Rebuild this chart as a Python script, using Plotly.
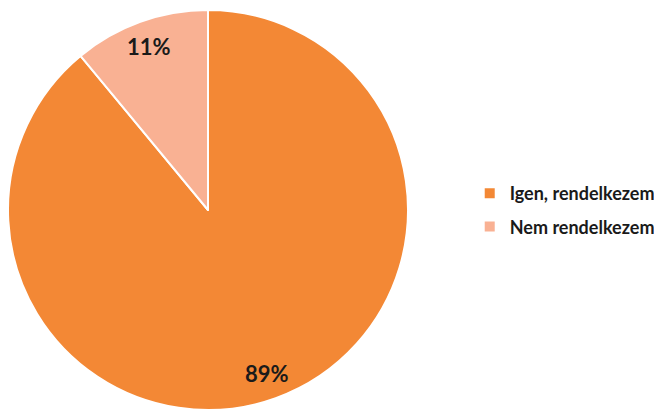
import math
import plotly.graph_objects as go

labels = ["Igen, rendelkezem", "Nem rendelkezem"]
values = [89, 11]
colors = ["#F38835", "#F9B193"]

# page body adds an 8px offset, so the figure is drawn 8px smaller
W, H = 654, 404
ML, MR, MT, MB = 0, 0, 2, 2
pie_x = [0, 400 / W]

fig = go.Figure(go.Pie(
    labels=labels,
    values=values,
    sort=False,
    direction="clockwise",
    rotation=0,
    marker=dict(colors=colors, line=dict(color="white", width=2)),
    textinfo="none",
    domain=dict(x=pie_x, y=[0, 1]),
    hoverinfo="skip",
    showlegend=False,
))

# percent labels placed along each slice's mid-angle
pw, ph = W - ML - MR, H - MT - MB
R = min((pie_x[1] - pie_x[0]) * pw, ph) / 2
cx, cy = (pie_x[0] + pie_x[1]) / 2, 0.5
total = sum(values)
start = 0.0
for v in values:
    mid = (start + v / 2) / total * 2 * math.pi
    start += v
    r = 0.87 * R
    fig.add_annotation(
        x=cx + r * math.sin(mid) / pw,
        y=cy + r * math.cos(mid) / ph,
        xref="paper", yref="paper",
        xanchor="center", yanchor="middle",
        text=f"{round(v / total * 100)}%",
        showarrow=False,
        font=dict(family="Lato", size=22, color="#1a1a1a", weight="bold"),
    )

# legend entries
for lab, col in zip(labels, colors):
    fig.add_trace(go.Scatter(
        x=[None], y=[None], mode="markers", name=lab, legendgroup=lab,
        marker=dict(symbol="square", size=10, color=col),
        hoverinfo="skip",
    ))

fig.update_layout(
    width=W, height=H,
    margin=dict(l=ML, r=MR, t=MT, b=MB),
    paper_bgcolor="white",
    plot_bgcolor="white",
    xaxis=dict(visible=False),
    yaxis=dict(visible=False),
    showlegend=True,
    legend=dict(
        x=0.706, y=0.5, xanchor="left", yanchor="middle",
        font=dict(family="Lato", size=18, color="#1a1a1a", weight="bold"),
        tracegroupgap=7,
        itemwidth=30,
        bgcolor="rgba(0,0,0,0)",
    ),
)

fig.write_html("out.html")
